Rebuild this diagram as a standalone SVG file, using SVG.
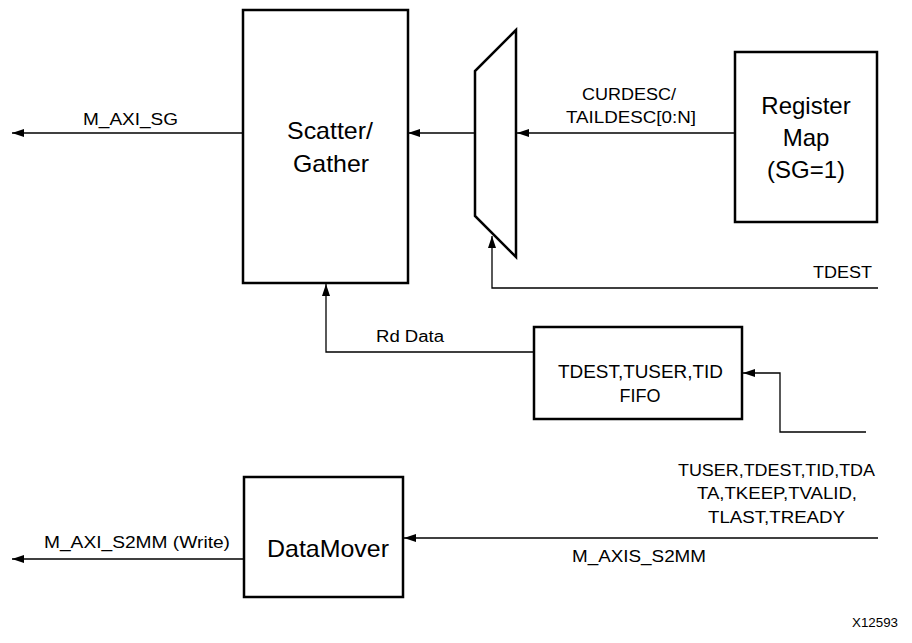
<svg xmlns="http://www.w3.org/2000/svg" width="912" height="643" viewBox="0 0 912 643">
<style>
.box{fill:#fff;stroke:#000;stroke-width:2.5}
.ln{fill:none;stroke:#000;stroke-width:1.3}
.big{font-family:"Liberation Sans",Arial,sans-serif;font-size:24px;fill:#000}
.sm{font-family:"Liberation Sans",Arial,sans-serif;font-size:16px;fill:#000}
.fi{font-family:"Liberation Sans",Arial,sans-serif;font-size:18px;fill:#000}
.c{text-anchor:middle}
</style>
<defs>
<marker id="ah" viewBox="0 0 12 8" refX="12" refY="4" markerWidth="12" markerHeight="8" markerUnits="userSpaceOnUse" orient="auto">
<path d="M0,0 L12,4 L0,8 Z" fill="#000"/>
</marker>
</defs>
<g id="connectors">
<line class="ln" x1="243" y1="133" x2="12" y2="133" marker-end="url(#ah)"/>
<line class="ln" x1="475" y1="133" x2="408" y2="133" marker-end="url(#ah)"/>
<line class="ln" x1="735" y1="133" x2="517" y2="133" marker-end="url(#ah)"/>
<polyline class="ln" points="878,288 492,288 492,236" marker-end="url(#ah)"/>
<polyline class="ln" points="534,352 326,352 326,284" marker-end="url(#ah)"/>
<polyline class="ln" points="866,432 780,432 780,373 743,373" marker-end="url(#ah)"/>
<line class="ln" x1="878" y1="538" x2="404" y2="538" marker-end="url(#ah)"/>
<line class="ln" x1="244" y1="559" x2="12" y2="559" marker-end="url(#ah)"/>
<text class="sm" x="83" y="125" textLength="95" lengthAdjust="spacingAndGlyphs">M_AXI_SG</text>
<text class="sm" x="582" y="100" textLength="94" lengthAdjust="spacingAndGlyphs">CURDESC/</text>
<text class="sm" x="566" y="123" textLength="130" lengthAdjust="spacingAndGlyphs">TAILDESC[0:N]</text>
<text class="sm" x="813" y="278" textLength="59" lengthAdjust="spacingAndGlyphs">TDEST</text>
<text class="sm" x="376" y="342" textLength="68" lengthAdjust="spacingAndGlyphs">Rd Data</text>
<text class="sm" x="678" y="476" textLength="197" lengthAdjust="spacingAndGlyphs">TUSER,TDEST,TID,TDA</text>
<text class="sm" x="697" y="499" textLength="160" lengthAdjust="spacingAndGlyphs">TA,TKEEP,TVALID,</text>
<text class="sm" x="708" y="523" textLength="137" lengthAdjust="spacingAndGlyphs">TLAST,TREADY</text>
<text class="sm" x="572" y="562" textLength="134" lengthAdjust="spacingAndGlyphs">M_AXIS_S2MM</text>
<text class="sm" x="44" y="548" textLength="186" lengthAdjust="spacingAndGlyphs">M_AXI_S2MM (Write)</text>
</g>
<g id="scatter-gather">
<rect class="box" x="243" y="10" width="165" height="273"/>
<text class="big" x="287" y="139" textLength="86" lengthAdjust="spacingAndGlyphs">Scatter/</text>
<text class="big" x="293" y="172" textLength="76" lengthAdjust="spacingAndGlyphs">Gather</text>
</g>
<g id="mux">
<polygon class="box" points="516,30 475,71 475,216 516,257"/>
</g>
<g id="register-map">
<rect class="box" x="735" y="52" width="142" height="170"/>
<text class="big c" x="806" y="114">Register</text>
<text class="big c" x="806" y="146">Map</text>
<text class="big c" x="806" y="178">(SG=1)</text>
</g>
<g id="fifo">
<rect class="box" x="534" y="327" width="208" height="92"/>
<text class="fi" x="558" y="378" textLength="165" lengthAdjust="spacingAndGlyphs">TDEST,TUSER,TID</text>
<text class="fi c" x="640" y="402">FIFO</text>
</g>
<g id="datamover">
<rect class="box" x="244" y="477" width="159" height="120"/>
<text class="big" x="267" y="557" textLength="122" lengthAdjust="spacingAndGlyphs">DataMover</text>
</g>
<text class="sm" x="852" y="627" style="font-size:13px" textLength="46" lengthAdjust="spacingAndGlyphs">X12593</text>
</svg>
